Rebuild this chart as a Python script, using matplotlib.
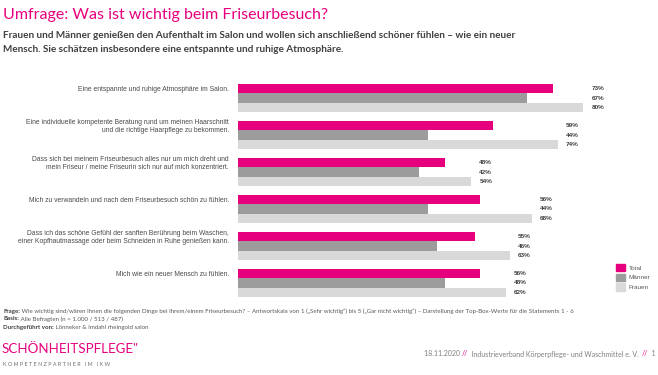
import numpy as np
import matplotlib
matplotlib.use('Agg')
import matplotlib.pyplot as plt
from matplotlib.patches import Patch

# data
statements = ['Eine entspannte und ruhige Atmosphäre im Salon.',
              'Eine individuelle kompetente Beratung rund um meinen Haarschnitt\nund die richtige Haarpflege zu bekommen.',
              'Dass sich bei meinem Friseurbesuch alles nur um mich dreht und\nmein Friseur / meine Friseurin sich nur auf mich konzentriert.',
              'Mich zu verwandeln und nach dem Friseurbesuch schön zu fühlen.',
              'Dass ich das schöne Gefühl der sanften Berührung beim Waschen,\neiner Kopfhautmassage oder beim Schneiden in Ruhe genießen kann.',
              'Mich wie ein neuer Mensch zu fühlen.']
total = [73, 59, 48, 56, 55, 56]
maenner = [67, 44, 42, 44, 46, 48]
frauen = [80, 74, 54, 68, 63, 62]
series_names = ['Total', 'Männer', 'Frauen']

pink = '#E6007E'
colors = [pink, '#9C9C9C', '#D9D9D9']

plt.rcParams['font.family'] = ['Liberation Sans', 'DejaVu Sans']

fig = plt.figure(figsize=(6.58, 3.75), dpi=100)
ax = fig.add_axes([238/658, 1-301.5/375, 367/658, 222/375])

y = np.arange(len(statements))
h = 0.25
for k, vals in enumerate([total, maenner, frauen]):
    ax.barh(y + (k-1)*h, vals, height=h, color=colors[k], label=series_names[k])

for i in range(len(statements)):
    vals = [total[i], maenner[i], frauen[i]]
    xm = max(vals) + 1.9
    for k, v in enumerate(vals):
        ax.text(xm, y[i] + (k-1)*h, '%d%%' % v, ha='left', va='center',
                fontsize=4.6, color='#404040', fontweight='bold', clip_on=False)
    ax.text(-2.1, y[i] - h*0.9, statements[i], ha='right', va='center',
            fontsize=4.9, color='#4A4A4A', linespacing=1.2)

ax.set_xlim(0, 85)
ax.set_ylim(5.5, -0.5)
ax.axis('off')

handles = [Patch(color=c) for c in colors]
fig.legend(handles, series_names, loc='upper left', bbox_to_anchor=(616/658, 1-264/375),
           frameon=False, fontsize=4.6, handlelength=1.4, handleheight=1.4,
           borderpad=0, borderaxespad=0, labelspacing=0.35, handletextpad=0.6,
           labelcolor='#595959')

# title and subtitle
fig.text(3/658, 1-15/375, 'Umfrage: Was ist wichtig beim Friseurbesuch?', fontsize=11.5,
         color=pink, family='Lato', va='center', ha='left')
fig.text(3/658, 1-42.5/375, 'Frauen und Männer genießen den Aufenthalt im Salon und wollen sich anschließend schöner fühlen – wie ein neuer\n'
         'Mensch. Sie schätzen insbesondere eine entspannte und ruhige Atmosphäre.',
         fontsize=7.2, color='#404040', family='Lato', fontweight='bold', va='center', ha='left',
         linespacing=1.7)

# footnotes
foot = [('Frage:', ' Wie wichtig sind/wären Ihnen die folgenden Dinge bei Ihrem/einem Friseurbesuch? – Antwortskala von 1 („Sehr wichtig“) bis 5 („Gar nicht wichtig“) – Darstellung der Top-Box-Werte für die Statements 1 - 6'),
        ('Basis:', ' Alle Befragten (n = 1.000 / 513 / 487)'),
        ('Durchgeführt von:', ' Lönneker & Imdahl rheingold salon')]
for j, (b, r) in enumerate(foot):
    t = fig.text(3/658, 1-(311+8*j)/375, b, fontsize=4.45, family='Lato', fontweight='bold',
                 color='#404040', va='center', ha='left')
    plt.annotate(r, xy=(1, 0), xycoords=t, va='bottom', ha='left', fontsize=4.45,
                 family='Lato', color='#595959')

fig.text(2/658, 1-349/375, 'SCHÖNHEITSPFLEGE"', fontsize=9.6, family='Lato',
         color=pink, va='center', ha='left')
fig.text(3/658, 1-364/375, 'K O M P E T E N Z P A R T N E R   I M   I K W', fontsize=3.9, family='Lato',
         color='#6F6F6F', va='center', ha='left')

# bottom right line
parts = [('18.11.2020 ', '#7F7F7F'), ('//', pink), ('  Industrieverband Körperpflege- und Waschmittel e. V.  ', '#7F7F7F'),
         ('//', pink), ('  1', '#7F7F7F')]
prev = fig.text(424/658, 1-354/375, parts[0][0], fontsize=5.0, family='Lato', color=parts[0][1],
                va='center', ha='left')
for s, c in parts[1:]:
    prev = plt.annotate(s, xy=(1, 0), xycoords=prev, va='bottom', ha='left', fontsize=5.0,
                        family='Lato', color=c)

fig.savefig('out.png', dpi=100)
